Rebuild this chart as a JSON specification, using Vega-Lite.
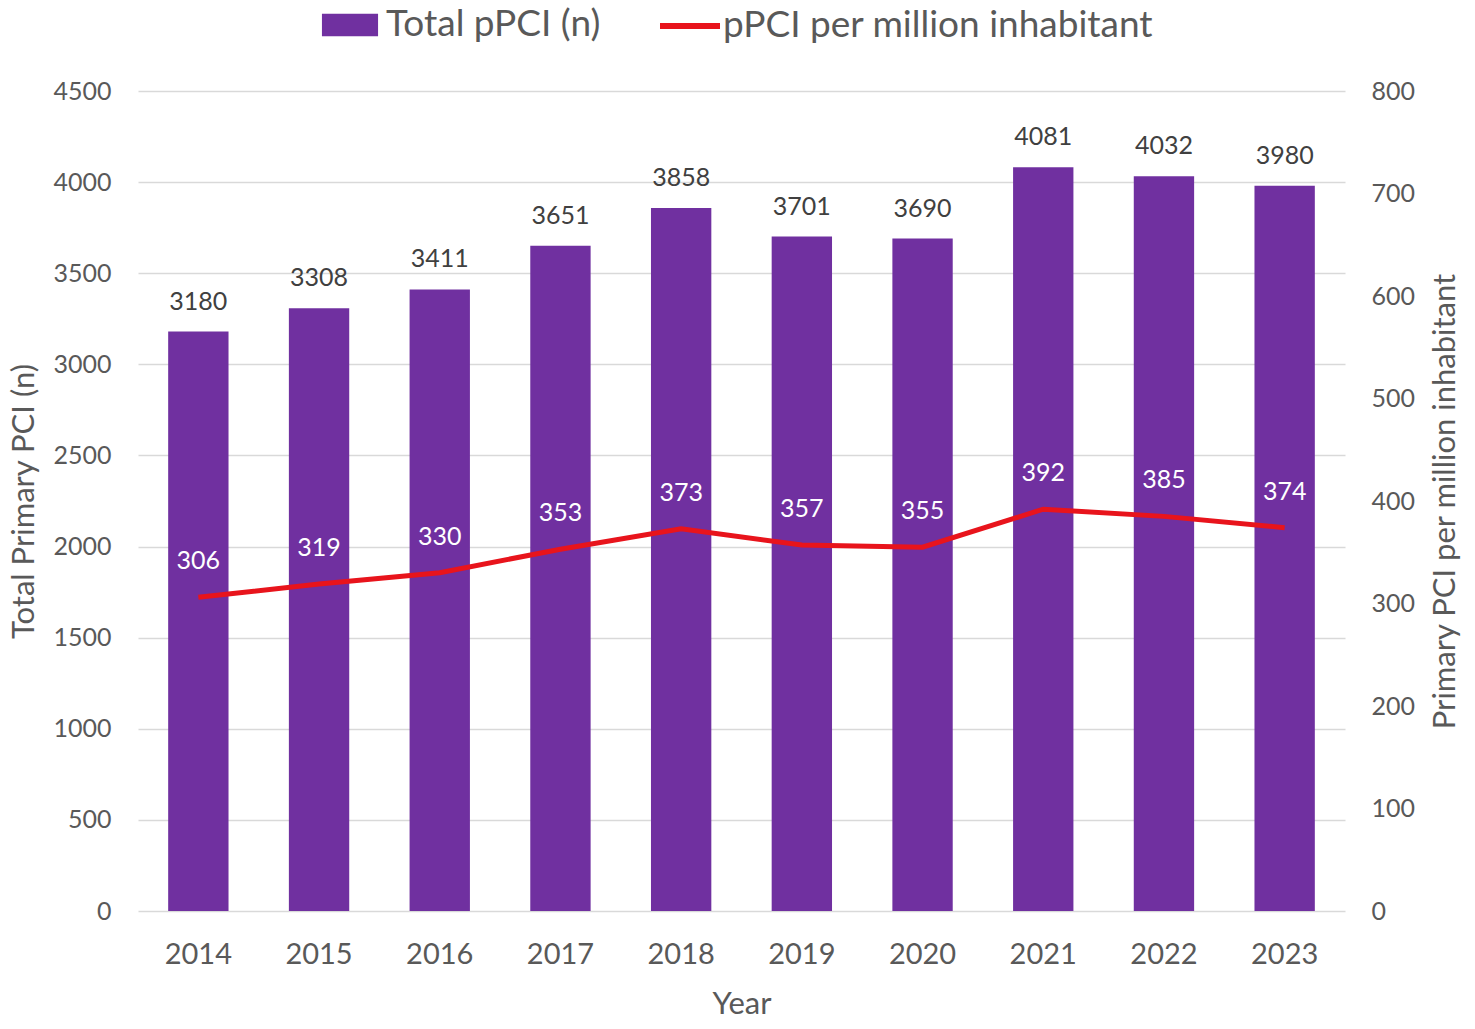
{
  "$schema": "https://vega.github.io/schema/vega-lite/v6.json",
  "width": 1207,
  "height": 820,
  "autosize": {"type": "none"},
  "padding": {"left": 138, "top": 91, "right": 130, "bottom": 118},
  "background": "white",
  "config": {
    "font": "Lato",
    "view": {"stroke": null},
    "axis": {"labelColor": "#595959", "titleColor": "#595959", "domain": false, "ticks": false, "titleFontWeight": "normal"},
    "legend": {"labelLimit": 0, "padding": 0}
  },
  "data": {
    "values": [
      {"year": "2014", "total": 3180, "rate": 306},
      {"year": "2015", "total": 3308, "rate": 319},
      {"year": "2016", "total": 3411, "rate": 330},
      {"year": "2017", "total": 3651, "rate": 353},
      {"year": "2018", "total": 3858, "rate": 373},
      {"year": "2019", "total": 3701, "rate": 357},
      {"year": "2020", "total": 3690, "rate": 355},
      {"year": "2021", "total": 4081, "rate": 392},
      {"year": "2022", "total": 4032, "rate": 385},
      {"year": "2023", "total": 3980, "rate": 374}
    ]
  },
  "encoding": {
    "x": {
      "field": "year",
      "type": "ordinal",
      "scale": {"paddingInner": 0.5, "paddingOuter": 0.25},
      "axis": {"title": "Year", "labelAngle": 0, "labelFontSize": 29, "labelPadding": 29, "titleFontSize": 31, "titlePadding": 20}
    }
  },
  "layer": [
    {
      "encoding": {
        "y": {
          "field": "total",
          "type": "quantitative",
          "scale": {"domain": [0, 4500], "nice": false},
          "axis": {
            "title": "Total Primary PCI (n)",
            "format": "d",
            "values": [0, 500, 1000, 1500, 2000, 2500, 3000, 3500, 4000, 4500],
            "labelFontSize": 25,
            "labelPadding": 27,
            "titleFontSize": 31,
            "titlePadding": 12,
            "gridColor": "#D9D9D9",
            "gridWidth": 1.5
          }
        }
      },
      "layer": [
        {
          "mark": {"type": "bar", "color": "#7030A0"},
          "encoding": {
            "fill": {
              "datum": "Total pPCI (n)",
              "type": "nominal",
              "scale": {"range": ["#7030A0"]},
              "legend": {
                "title": null,
                "orient": "none",
                "legendX": 193,
                "legendY": -85,
                "symbolType": "M-1.5,-0.6H1.5V0.6H-1.5Z",
                "symbolSize": 1400,
                "symbolStrokeWidth": 0,
                "labelFontSize": 37,
                "labelColor": "#595959",
                "labelOffset": 17
              }
            }
          }
        },
        {
          "mark": {"type": "text", "dy": -30, "fontSize": 25, "color": "#404040"},
          "encoding": {"text": {"field": "total", "type": "quantitative"}}
        }
      ]
    },
    {
      "encoding": {
        "y": {
          "field": "rate",
          "type": "quantitative",
          "scale": {"domain": [0, 800], "nice": false},
          "axis": {
            "title": "Primary PCI per million inhabitant",
            "orient": "right",
            "grid": false,
            "titleAngle": 270,
            "titleBaseline": "top",
            "values": [0, 100, 200, 300, 400, 500, 600, 700, 800],
            "labelFontSize": 25,
            "labelPadding": 26,
            "titleFontSize": 31,
            "titlePadding": 16
          }
        }
      },
      "layer": [
        {
          "mark": {"type": "line", "strokeWidth": 5, "color": "#E8141C"},
          "encoding": {
            "stroke": {
              "datum": "pPCI per million inhabitant",
              "type": "nominal",
              "scale": {"range": ["#E8141C"]},
              "legend": {
                "title": null,
                "orient": "none",
                "legendX": 519,
                "legendY": -98,
                "symbolType": "stroke",
                "symbolSize": 3600,
                "symbolStrokeWidth": 6,
                "labelFontSize": 37,
                "labelColor": "#595959",
                "labelOffset": 0
              }
            }
          }
        },
        {
          "mark": {"type": "text", "dy": -36, "fontSize": 25, "color": "white"},
          "encoding": {"text": {"field": "rate", "type": "quantitative"}}
        }
      ]
    }
  ],
  "resolve": {"scale": {"y": "independent", "fill": "independent", "stroke": "independent"}}
}
